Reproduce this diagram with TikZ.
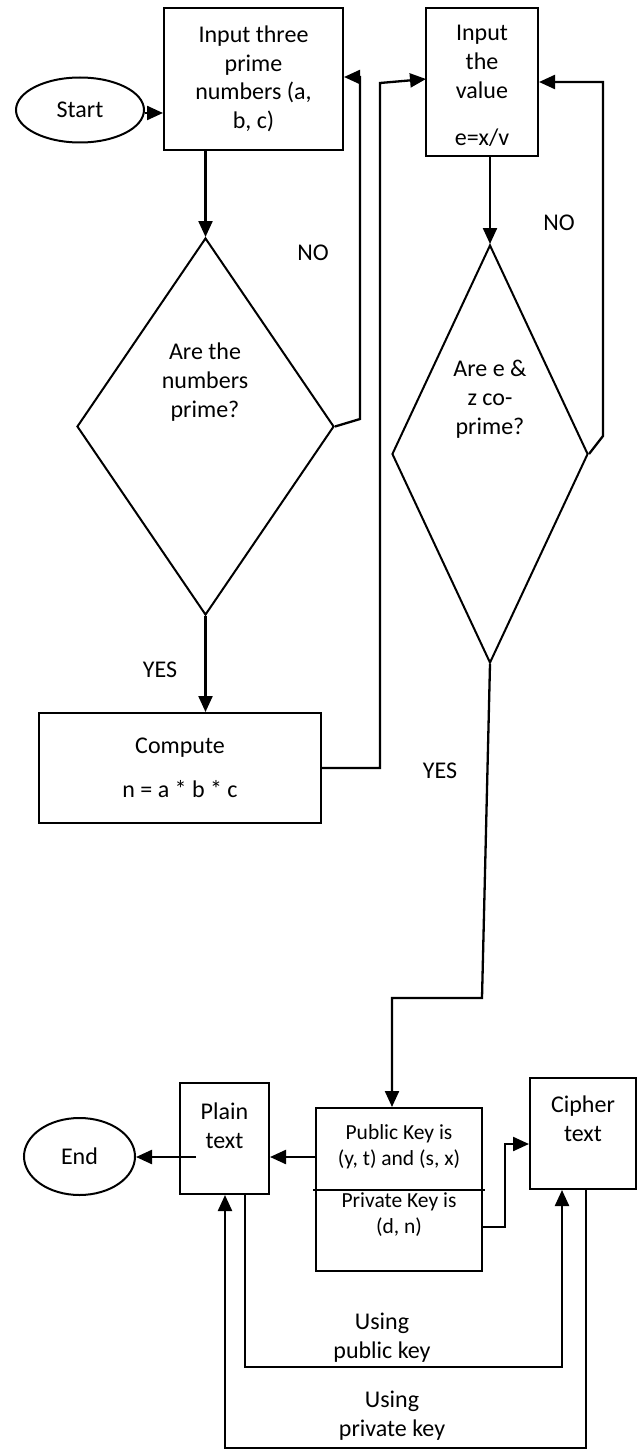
\documentclass[tikz,border=0pt]{standalone}
\usepackage{fontspec}
\setmainfont{Carlito}
\usetikzlibrary{arrows.meta,shapes.geometric}
\begin{document}
\begin{tikzpicture}[x=1pt,y=-1pt,
  box/.style={draw, line width=2pt, inner sep=0pt, align=center, font=\fontsize{24}{28.5}\selectfont},
  oval/.style={draw, ellipse, line width=2pt, inner sep=0pt, font=\fontsize{24}{28.5}\selectfont},
  decision/.style={draw, diamond, line width=2pt, inner sep=0pt},
  txt/.style={align=center, inner sep=0pt, font=\fontsize{24}{29}\selectfont},
  smalltxt/.style={align=center, inner sep=0pt, font=\fontsize{21.5}{26}\selectfont},
  arr/.style={line width=2.3pt, -{Triangle[length=16pt,width=14pt]}},
  ln/.style={line width=2pt}
]
\useasboundingbox[fill=white] (0,0) rectangle (640,1450);

% nodes
\node[oval, minimum width=128pt, minimum height=65pt] (start) at (80,110) {Start};
\node[box, minimum width=179pt, minimum height=142pt] (box1) at (253.5,79) {Input three\\prime\\numbers (a,\\b, c)};
\node[box, minimum width=112pt, minimum height=148pt] (box2) at (482,82) {};
\node[txt] (box2t) at (482,86) {Input\\the\\value\\[18pt]e=x/v};
\node[decision, minimum width=257pt, minimum height=377pt] (d1) at (205.5,426.5) {};
\node[txt] (d1t) at (205,382) {Are the\\numbers\\prime?};
\node[decision, minimum width=196pt, minimum height=418pt] (d2) at (490,454) {};
\node[txt] (d2t) at (490,399) {Are e \&\\z co-\\prime?};
\node[box, minimum width=282pt, minimum height=110pt] (compute) at (180,768) {Compute\\[16pt]n = a * b * c};
\node[oval, minimum width=111pt, minimum height=77pt] (endn) at (79.5,1156.5) {End};
\node[box, minimum width=89pt, minimum height=111pt] (plain) at (224.5,1138.5) {};
\node[txt] (plaint) at (224.5,1126) {Plain\\text};
\node[box, minimum width=166pt, minimum height=163pt] (key) at (399,1189.5) {};
\node[smalltxt] (keyt) at (399,1181) {Public Key is\\(y, t) and (s, x)\\[16pt]Private Key is\\(d, n)};
\node[box, minimum width=106pt, minimum height=111pt] (cipher) at (583,1133.5) {};
\node[txt] (ciphert) at (583,1119) {Cipher\\text};

% labels
\node[txt] (no1) at (313,253) {NO};
\node[txt] (no2) at (559,223) {NO};
\node[txt] (yes1) at (160,670) {YES};
\node[txt] (yes2) at (440,771) {YES};
\node[txt] (usepub) at (382,1338) {Using\\public key};
\node[txt] (usepriv) at (392,1416) {Using\\private key};

% divider in key box
\draw[ln] (313,1190) -- (485,1190);

% coordinates
\coordinate (n1a) at (360,419);
\coordinate (n1b) at (360,77);
\coordinate (c1) at (380,768);
\coordinate (c2) at (380,83);
\coordinate (c3) at (426,79);
\coordinate (n2a) at (603,436);
\coordinate (n2b) at (603,82);
\coordinate (y1) at (482,998);
\coordinate (y2) at (392,998);
\coordinate (kp) at (316,1157);
\coordinate (pe) at (196,1157);
\coordinate (kc1) at (482,1227);
\coordinate (kc2) at (505,1227);
\coordinate (kc3) at (505,1144);
\coordinate (pu1) at (245,1194);
\coordinate (pu2) at (245,1367);
\coordinate (pu3) at (562,1367);
\coordinate (pr1) at (586,1189);
\coordinate (pr2) at (586,1448);
\coordinate (pr3) at (225,1448);

% connectors
\draw[arr] (start.east |- 0,113) -- (box1.west |- 0,113);
\draw[arr] (d1.north |- box1.south) -- (d1.north);
\draw[arr] (d1.south) -- (d1.south |- compute.north);
\draw[arr] (d1.east) -- (n1a) -- (n1b) -- (n1b -| box1.east);
\draw[arr] (compute.east) -- (c1) -- (c2) -- (c3);
\draw[arr] (d2.north |- box2.south) -- (d2.north);
\draw[arr] (d2.east) -- (n2a) -- (n2b) -- (n2b -| box2.east);
\draw[arr] (d2.south) -- (y1) -- (y2) -- (y2 |- key.north);
\draw[arr] (kp) -- (kp -| plain.east);
\draw[arr] (pe) -- (pe -| endn.east);
\draw[arr] (kc1) -- (kc2) -- (kc3) -- (kc3 -| cipher.west);
\draw[arr] (pu1) -- (pu2) -- (pu3) -- (pu3 |- cipher.south);
\draw[arr] (pr1) -- (pr2) -- (pr3) -- (pr3 |- plain.south);
\end{tikzpicture}
\end{document}
